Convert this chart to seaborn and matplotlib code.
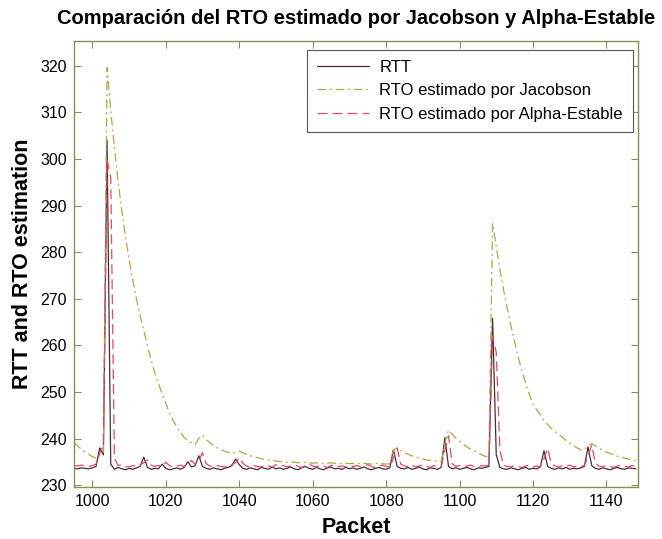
import numpy as np
import pandas as pd
import matplotlib
matplotlib.use("Agg")
import matplotlib.pyplot as plt
import seaborn as sns

# Packet index range
packets = list(range(995, 1149))

# Measured round-trip time per packet
rtt = [
    233.6, 233.5, 233.7, 233.6, 233.5, 233.7, 234.0, 238.0, 236.5, 304.0,
    234.5, 233.4, 233.8, 233.5, 233.3, 233.6, 233.4, 233.7, 234.0, 236.0,
    233.8, 233.4, 233.6, 233.5, 234.5, 233.6, 233.3, 233.5, 233.7, 233.4,
    233.8, 235.0, 233.9, 234.2, 236.3, 234.0, 233.6, 233.4, 233.7, 233.5,
    233.3, 233.6, 233.8, 234.2, 235.6, 234.4, 233.6, 233.4, 233.7, 233.5,
    233.3, 233.8, 233.6, 233.4, 233.9, 233.5, 233.7, 233.4, 233.6, 233.9,
    233.5, 233.3, 233.7, 234.0, 233.6, 233.4, 233.8, 233.5, 233.3, 233.7,
    233.9, 233.5, 233.6, 233.4, 233.8, 233.5, 233.7, 233.4, 233.6, 233.9,
    233.5, 233.3, 233.6, 233.8, 233.5, 233.4, 233.7, 237.6, 234.0, 233.6,
    233.5, 233.8, 233.4, 233.6, 233.9, 233.5, 233.3, 233.7, 233.6, 233.4,
    233.8, 240.2, 234.0, 233.5, 233.7, 233.4, 233.6, 233.8, 233.5, 233.3,
    233.7, 233.6, 233.8, 234.0, 265.8, 236.5, 233.8, 233.5, 233.4, 233.7,
    233.5, 233.3, 233.6, 233.8, 233.4, 233.6, 233.5, 233.9, 237.4, 234.0,
    233.6, 233.4, 233.7, 233.5, 233.8, 233.4, 233.6, 233.5, 233.7, 234.0,
    238.2, 234.2, 233.6, 233.4, 233.7, 233.5, 233.3, 233.6, 233.8, 233.5,
    233.4, 233.7, 233.6, 233.5,
]

# RTO from Jacobson's estimator
rto_jacobson = [
    239.1, 238.4, 237.7, 237.1, 236.6, 236.1, 235.8, 236.6, 236.9, 319.6,
    310.5, 302.4, 295.2, 289.0, 283.4, 278.4, 274.0, 270.0, 266.4, 263.2,
    259.9, 256.9, 254.1, 251.8, 249.6, 247.6, 245.4, 243.9, 242.5, 241.3,
    240.2, 239.6, 239.1, 238.7, 240.0, 240.7, 239.8, 239.1, 238.5, 238.0,
    237.6, 237.3, 237.0, 236.8, 237.0, 237.3, 236.9, 236.6, 236.3, 236.1,
    235.9, 235.7, 235.5, 235.4, 235.3, 235.2, 235.1, 235.0, 234.9, 235.0,
    234.9, 234.8, 234.8, 234.9, 234.8, 234.7, 234.8, 234.7, 234.6, 234.7,
    234.8, 234.7, 234.6, 234.6, 234.7, 234.6, 234.7, 234.6, 234.6, 234.7,
    234.6, 234.5, 234.6, 234.7, 234.6, 234.5, 234.6, 237.6, 237.9, 237.4,
    237.0, 236.6, 236.3, 236.0, 235.8, 235.6, 235.4, 235.3, 235.2, 235.1,
    235.0, 239.0, 241.8, 240.9, 240.1, 239.4, 238.8, 238.2, 237.7, 237.3,
    236.9, 236.5, 236.2, 236.0, 286.2, 281.1, 276.3, 271.9, 267.9, 264.2,
    260.7, 257.4, 254.5, 251.9, 249.5, 247.4, 246.2, 245.1, 243.8, 243.0,
    242.2, 241.5, 240.9, 240.3, 239.6, 239.0, 238.5, 238.0, 237.6, 237.6,
    238.4, 238.9, 238.4, 237.9, 237.5, 237.1, 236.8, 236.5, 236.2, 236.0,
    235.8, 235.6, 235.4, 235.3,
]

# RTO from the alpha-stable estimator
rto_alpha = [
    234.2, 234.1, 234.3, 234.2, 234.0, 234.2, 234.5, 236.8, 238.6, 300.0,
    296.0, 235.8, 234.2, 234.4, 234.0, 233.9, 234.2, 234.0, 234.3, 234.8,
    235.4, 234.3, 234.0, 234.2, 234.1, 234.9, 234.2, 233.9, 234.1, 234.3,
    234.0, 234.4, 235.3, 234.5, 235.2, 237.0, 234.6, 234.1, 233.9, 234.2,
    234.0, 233.9, 234.2, 234.4, 234.8, 235.9, 234.7, 234.1, 233.9, 234.2,
    234.0, 233.9, 234.3, 234.1, 233.9, 234.4, 234.0, 234.2, 233.9, 234.1,
    234.4, 234.0, 233.8, 234.2, 234.5, 234.1, 233.9, 234.3, 234.0, 233.8,
    234.2, 234.4, 234.0, 234.1, 233.9, 234.3, 234.0, 234.2, 233.9, 234.1,
    234.4, 234.0, 233.8, 234.1, 234.3, 234.0, 233.9, 235.8, 238.0, 234.5,
    234.1, 234.0, 234.3, 233.9, 234.1, 234.4, 234.0, 233.8, 234.2, 234.1,
    233.9, 237.5, 240.6, 234.6, 234.0, 234.2, 233.9, 234.1, 234.3, 234.0,
    233.8, 234.2, 234.1, 234.3, 262.0, 258.5, 237.4, 234.3, 234.0, 233.9,
    234.2, 234.0, 233.8, 234.1, 234.3, 233.9, 234.1, 234.0, 235.6, 237.9,
    234.6, 234.1, 233.9, 234.2, 234.0, 234.3, 233.9, 234.1, 234.0, 234.2,
    236.2, 238.6, 234.7, 234.1, 233.9, 234.2, 234.0, 233.8, 234.1, 234.3,
    234.0, 233.9, 234.2, 234.1,
]

series_names = ["RTT", "RTO estimado por Jacobson", "RTO estimado por Alpha-Estable"]
x_ticks = [1000, 1020, 1040, 1060, 1080, 1100, 1120, 1140]
y_ticks = [230, 240, 250, 260, 270, 280, 290, 300, 310, 320]

df = pd.concat([
    pd.DataFrame({"Packet": packets, "valor": rtt, "serie": series_names[0]}),
    pd.DataFrame({"Packet": packets, "valor": rto_jacobson, "serie": series_names[1]}),
    pd.DataFrame({"Packet": packets, "valor": rto_alpha, "serie": series_names[2]}),
], ignore_index=True)

sns.set_theme(style="white")
plt.rcParams["font.family"] = ["Liberation Sans", "DejaVu Sans"]
plt.rcParams["text.color"] = "black"
plt.rcParams["axes.labelcolor"] = "black"

frame_col = "#8c8c55"
palette = {series_names[0]: "#4a2c3a",
           series_names[1]: "#b0a642",
           series_names[2]: "#e24a5e"}
dashes = {series_names[0]: "",
          series_names[1]: (7, 3, 1.5, 3),
          series_names[2]: (8, 4)}

fig = plt.figure(figsize=(6.62, 5.39), dpi=100)
ax = fig.add_axes([0.1118, 0.0965, 0.8519, 0.8274])

sns.lineplot(data=df, x="Packet", y="valor", hue="serie", style="serie",
             palette=palette, dashes=dashes, linewidth=0.9, ax=ax,
             hue_order=series_names, style_order=series_names)

ax.set_xlim(995, 1148.6)
ax.set_ylim(229.6, 325.3)
ax.set_xticks(x_ticks)
ax.set_yticks(y_ticks)
ax.tick_params(direction="in", length=5, width=0.8, color=frame_col,
               labelsize=11.5, labelcolor="black", top=True, right=True,
               bottom=True, left=True, pad=5)
for s in ax.spines.values():
    s.set_color(frame_col)
    s.set_linewidth(1.0)

ax.set_xlabel("Packet", fontsize=15.5, fontweight="bold", labelpad=6)
ax.set_ylabel("RTT and RTO estimation", fontsize=15.5, fontweight="bold", labelpad=5)
ax.set_title("Comparación del RTO estimado por Jacobson y Alpha-Estable",
             fontsize=14.5, fontweight="bold", pad=12)

leg = ax.legend(loc="upper right", bbox_to_anchor=(0.991, 0.980),
                borderaxespad=0, fontsize=12, frameon=True, fancybox=False,
                edgecolor="#555555", framealpha=1, handlelength=3.1,
                handletextpad=0.65, borderpad=0.6, labelspacing=0.5)
leg.get_frame().set_linewidth(0.8)
for t in leg.get_texts():
    t.set_color("black")

fig.savefig("out.png", dpi=100, facecolor="white")
